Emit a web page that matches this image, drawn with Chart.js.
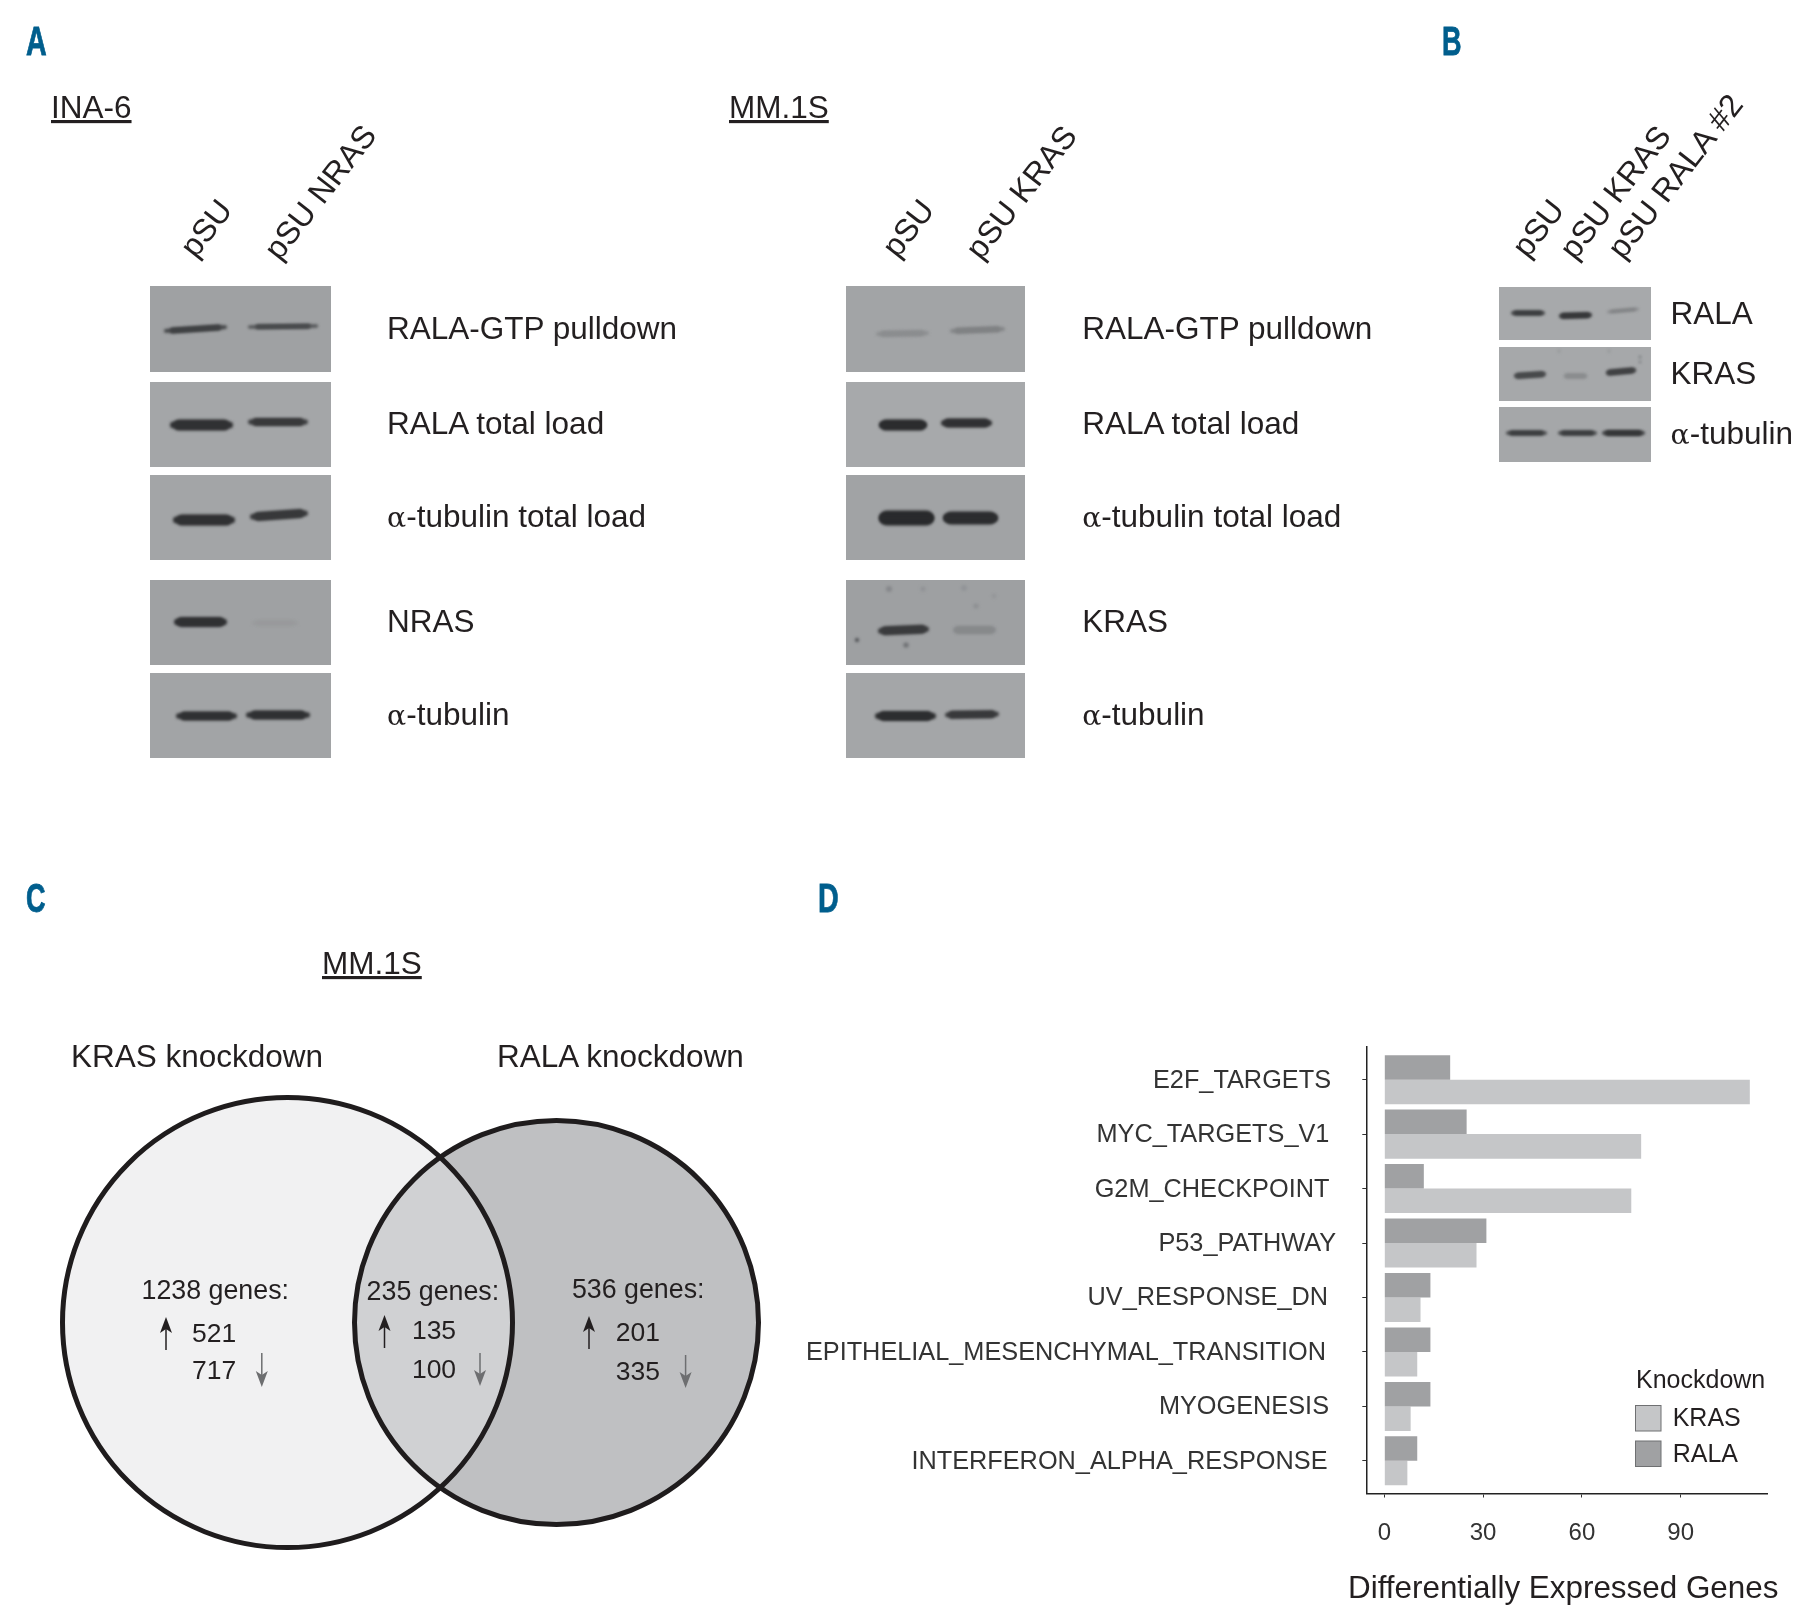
<!DOCTYPE html>
<html><head><meta charset="utf-8">
<script src="https://cdn.jsdelivr.net/npm/chart.js@4"></script>
<style>
html,body{margin:0;padding:0;background:#fff;width:1803px;height:1618px;overflow:hidden}
canvas{position:absolute;display:block}
svg{position:absolute;left:0;top:0}
svg text{font-family:"Liberation Sans",Arial,sans-serif;fill:#231f20}
</style></head><body>
<svg id="ov" width="1803" height="1618" xmlns="http://www.w3.org/2000/svg" style="z-index:5"></svg>
<script>
/* ---------- Panel D data ---------- */
const categories = ["E2F_TARGETS","MYC_TARGETS_V1","G2M_CHECKPOINT","P53_PATHWAY","UV_RESPONSE_DN","EPITHELIAL_MESENCHYMAL_TRANSITION","MYOGENESIS","INTERFERON_ALPHA_RESPONSE"];
const ralaGenes = [20,25,12,31,14,14,14,10];
const krasGenes = [111,78,75,28,11,10,8,7];
const xTickValues = [0,30,60,90];
const xTitle = "Differentially Expressed Genes";
const legendTitle = "Knockdown";
const legendNames = ["KRAS","RALA"];

/* ---------- Panel C data ---------- */
const vennSets = ["KRAS knockdown","RALA knockdown"];
const vennTotals = [1238,235,536];
const vennUp = [521,135,201];
const vennDown = [717,100,335];

/* ---------- Panels A / B labels ---------- */
const blotRowsA1 = ["RALA-GTP pulldown","RALA total load","α-tubulin total load","NRAS","α-tubulin"];
const blotRowsA2 = ["RALA-GTP pulldown","RALA total load","α-tubulin total load","KRAS","α-tubulin"];
const blotRowsB = ["RALA","KRAS","α-tubulin"];

/* Blot bands: [start, startLevel, end, endLevel, thickness, shade] per row */
const bandsA1 = [
 [[14,45,77,41,6,"#3f4143"],[98,41,168,40,5,"#484a4c"]],
 [[20,43,83,43,11,"#303133"],[98,40,158,40,8,"#38393b"]],
 [[23,45,85,45,11,"#303133"],[100,42,158,38,9,"#37383a"]],
 [[24,42,77,42,10,"#303133"],[102,43,148,43,5,"#98999b"]],
 [[26,43,87,43,9,"#303133"],[96,42,160,42,9,"#303133"]]
];
const bandsA2 = [
 [[30,48,83,47,6,"#8b8d8f"],[104,45,159,43,6,"#808284"]],
 [[33,43,81,43,11,"#2b2c2e"],[95,41,146,41,9,"#303133"]],
 [[33,43,88,43,15,"#292a2c"],[97,43,152,43,13,"#2c2d2f"]],
 [[32,51,83,49,9,"#3a3b3d"],[107,50,150,50,8,"#87898b"]],
 [[29,43,90,43,10,"#2d2e30"],[99,42,153,41,8,"#38393b"]]
];
const bandsB = [
 [[12,26,46,26,5,"#3a3c3e"],[60,29,93,28,6,"#363739"],[108,25,140,22,3,"#808284"]],
 [[15,29,47,27,6,"#47494b"],[65,29,88,29,5,"#8a8c8e"],[107,26,137,23,6,"#404143"]],
 [[7,26,48,26,5,"#3a3c3e"],[59,26,98,26,5,"#3a3c3e"],[103,26,146,26,6,"#363739"]]
];
const specksA2 = [[],[],[],[[11,60,2,"#45474a"],[60,65,2.6,"#6d6f72"],[43,9,3,"#85878a"],[77,9,2.5,"#909295"],[130,26,2.6,"#8d8f92"],[148,16,2.2,"#929497"],[118,8,3,"#929497"]],[]];
const specksB = [[],[[141,10,1,"#55575a"],[141,15,0.9,"#55575a"],[60,4,1.5,"#939598"],[110,4,1.5,"#939598"]],[]];

const FONT = '"Liberation Sans", Arial, sans-serif';
const TEXT = "#231f20";
Chart.defaults.animation = false;
Chart.defaults.devicePixelRatio = 1;
Chart.defaults.responsive = false;
Chart.defaults.font.family = FONT;

function addCanvas(l,t,w,h){
  const c=document.createElement("canvas");
  c.width=w;c.height=h;c.style.left=l+"px";c.style.top=t+"px";c.style.width=w+"px";c.style.height=h+"px";
  document.body.appendChild(c);return c;
}

/* ---------- Blots as line charts of thick blurred strokes ---------- */
function blotChart(l,t,w,h,bg,bands,specks){
  const ds=[];
  bands.forEach(b=>{
    const lerp=f=>({x:b[0]+(b[2]-b[0])*f,y:b[1]+(b[3]-b[1])*f});
    const tip=b[4]*0.3/(b[2]-b[0]);
    ds.push({data:[lerp(tip),lerp(1-tip)],borderColor:b[5],borderWidth:b[4]*0.6,borderCapStyle:"round",pointRadius:0,tension:0});
    ds.push({data:[lerp(0.14),lerp(0.86)],borderColor:b[5],borderWidth:b[4],borderCapStyle:"round",pointRadius:0,tension:0});
  });
  if(specks&&specks.length) ds.push({
    data:specks.map(s=>({x:s[0],y:s[1]})),showLine:false,
    pointRadius:specks.map(s=>s[2]),pointBackgroundColor:specks.map(s=>s[3]),pointBorderWidth:0
  });
  new Chart(addCanvas(l,t,w,h),{
    type:"line",data:{datasets:ds},
    options:{layout:{padding:0,autoPadding:false},
      scales:{x:{type:"linear",min:0,max:w,display:false},y:{type:"linear",min:0,max:h,reverse:true,display:false}},
      plugins:{legend:{display:false},tooltip:{enabled:false}}},
    plugins:[{id:"film",
      beforeDatasetsDraw(c){const x=c.ctx;x.save();x.fillStyle=bg;x.fillRect(0,0,w,h);x.filter="blur(1.5px)";},
      afterDatasetsDraw(c){c.ctx.restore();}}]
  });
}
const rowTops=[286,382,475,580,673], rowHeights=[86,85,85,85,85];
const bgA1=["#9fa1a3","#a4a6a8","#a3a5a7","#9fa1a3","#a2a4a6"];
const bgA2=["#a2a4a6","#a7a9ab","#a1a3a5","#9ea0a2","#a4a6a8"];
rowTops.forEach((t,i)=>{
  blotChart(150,t,181,rowHeights[i],bgA1[i],bandsA1[i],[]);
  blotChart(846,t,179,rowHeights[i],bgA2[i],bandsA2[i],specksA2[i]);
});
[[287,53,"#a7a9ab"],[347,54,"#a6a8aa"],[407,55,"#a5a7a9"]].forEach((r,i)=>
  blotChart(1499,r[0],152,r[1],r[2],bandsB[i],specksB[i]));

/* ---------- Venn as bubble chart ---------- */
const VX=0,VY=1060,VW=800,VH=510;
const leftSet={x:287.5,y:1322.5,r:225}, rightSet={x:556.5,y:1322.5,r:202};
const fills={left:"#f1f1f2",right:"#bfc0c2",both:"#d0d1d3",edge:"#1f1c1d"};
new Chart(addCanvas(VX,VY,VW,VH),{
  type:"bubble",
  data:{datasets:[
    {data:[leftSet],backgroundColor:fills.left,borderWidth:0,clip:false,order:3},
    {data:[rightSet],backgroundColor:fills.right,borderWidth:0,clip:false,order:2},
    {data:[rightSet],backgroundColor:fills.both,borderWidth:0,clip:false,order:1},
    {data:[leftSet,rightSet],backgroundColor:"rgba(0,0,0,0)",borderColor:fills.edge,borderWidth:5,clip:false,order:0}
  ]},
  options:{layout:{padding:0,autoPadding:false},
    scales:{x:{type:"linear",min:VX,max:VX+VW,display:false},y:{type:"linear",min:VY,max:VY+VH,reverse:true,display:false}},
    plugins:{legend:{display:false},tooltip:{enabled:false}}},
  plugins:[{id:"overlap",
    beforeDatasetDraw(c,a){ if(a.index===2){const e=c.getDatasetMeta(0).data[0];
      c.ctx.save();c.ctx.beginPath();c.ctx.arc(e.x,e.y,leftSet.r,0,Math.PI*2);c.ctx.clip();} },
    afterDatasetDraw(c,a){ if(a.index===2) c.ctx.restore(); }}]
});

/* ---------- Panel D: horizontal bars ---------- */
const D={l:800,t:1030,w:1003,h:588};
const labelRight=[1331,1329.4,1329.4,1336,1328,1326,1329,1327.5];
new Chart(addCanvas(D.l,D.t,D.w,D.h),{
  type:"bar",
  data:{datasets:[
    {label:legendNames[1],data:ralaGenes.map((v,i)=>({x:v,y:i})),backgroundColor:"#a0a1a3",barPercentage:1,categoryPercentage:0.9},
    {label:legendNames[0],data:krasGenes.map((v,i)=>({x:v,y:i})),backgroundColor:"#c5c6c8",barPercentage:1,categoryPercentage:0.9}
  ]},
  options:{indexAxis:"y",
    layout:{padding:{top:17,right:35.3,left:0,bottom:0},autoPadding:false},
    scales:{
      x:{type:"linear",min:-5.47,max:116.43,
        afterBuildTicks(s){s.ticks=xTickValues.map(v=>({value:v}));},
        afterFit(s){s.height=124.5;},
        grid:{drawOnChartArea:false,tickLength:4,tickColor:"#333",tickWidth:1},
        border:{color:"#222",width:1.5},
        ticks:{color:"#333",font:{size:24},padding:21,maxRotation:0,callback:v=>String(v)}},
      y:{type:"linear",reverse:true,min:-0.6,max:7.6,offset:false,
        afterBuildTicks(s){s.ticks=categories.map((_,i)=>({value:i}));},
        afterFit(s){s.width=566.3;},
        grid:{offset:false,drawOnChartArea:false,tickLength:4,tickColor:"#333",tickWidth:1},
        border:{color:"#222",width:1.5},
        ticks:{display:false}}
    },
    plugins:{legend:{display:false},tooltip:{enabled:false}}},
  plugins:[{id:"labels",afterDraw(c){
    const x=c.ctx,ys=c.scales.y;x.save();
    x.font="25.3px "+FONT;x.fillStyle="#333";x.textAlign="right";x.textBaseline="alphabetic";
    categories.forEach((n,i)=>x.fillText(n,labelRight[i]-D.l,ys.getPixelForValue(i)+8));
    x.textAlign="left";x.fillStyle=TEXT;
    x.font="31.4px "+FONT;
    x.fillText(xTitle,1348-D.l,1598-D.t);
    x.font="25px "+FONT;
    x.fillText(legendTitle,1636-D.l,1388-D.t);
    const rows=[[1405.5,25.5,"#c5c6c8",1425.6],[1441,25.5,"#a0a1a3",1462]];
    rows.forEach((r,i)=>{
      x.fillStyle=r[2];x.strokeStyle="#6f7072";x.lineWidth=1;
      x.fillRect(1635.5-D.l,r[0]-D.t,25.5,r[1]);x.strokeRect(1635.5-D.l,r[0]-D.t,25.5,r[1]);
      x.fillStyle=TEXT;x.fillText(legendNames[i],1672.7-D.l,r[3]-D.t);
    });
    x.restore();
  }}]
});

/* ---------- Text overlay ---------- */
const NS="http://www.w3.org/2000/svg", ov=document.getElementById("ov");
function el(n,a,p){const e=document.createElementNS(NS,n);for(const k in a)e.setAttribute(k,a[k]);(p||ov).appendChild(e);return e;}
function txt(x,y,s,size,o){
  o=o||{};
  const e=el("text",Object.assign({x:x,y:y,"font-size":size},o));
  if(s[0]==="α"){
    const a=el("tspan",{},e);a.style.fontFamily='"DejaVu Serif"';a.setAttribute("font-size",size*0.9);a.textContent="α";
    const b=el("tspan",{},e);b.textContent=s.slice(1);
  } else e.textContent=s;
  return e;
}
function letter(x,y,s,sx){
  const e=el("text",{transform:`translate(${x},${y}) scale(${sx},1)`,"font-size":41,"font-weight":"bold"});
  e.style.fill="#005e8d";e.style.stroke="#005e8d";e.style.strokeWidth="0.8px";e.textContent=s;
}
letter(26,55,"A",0.70);letter(1442,55,"B",0.66);letter(26,912,"C",0.66);letter(818,912,"D",0.70);

txt(51,118,"INA-6",31.5,{"text-decoration":"underline"});
txt(729,118,"MM.1S",31.5,{"text-decoration":"underline"});
txt(322,974,"MM.1S",31.5,{"text-decoration":"underline"});

function rot(cx,cy,s){txt(cx,cy,s,32,{"text-anchor":"middle","dominant-baseline":"central",transform:`rotate(-52 ${cx} ${cy})`});}
rot(206,228,"pSU");rot(320,192,"pSU NRAS");
rot(908,228,"pSU");rot(1021,192,"pSU KRAS");
rot(1538,228,"pSU");rot(1615,192,"pSU KRAS");rot(1675,176,"pSU RALA #2");

const rowBase=[338.5,433.5,526.5,631.5,724.5];
blotRowsA1.forEach((s,i)=>txt(387,rowBase[i],s,31.5));
blotRowsA2.forEach((s,i)=>txt(1082.2,rowBase[i],s,31.5));
[323.5,384,444].forEach((y,i)=>txt(1670.5,y,blotRowsB[i],31.5));

txt(71,1067,vennSets[0],31.5);txt(497,1067,vennSets[1],31.5);
const vt=[[141.5,1299],[366.6,1300],[571.9,1298]];
const vn=[[192,1341.7,1379.3],[411.9,1339.3,1378.3],[615.7,1340.7,1380]];
vennTotals.forEach((n,i)=>{
  txt(vt[i][0],vt[i][1],n+" genes:",26.8);
  txt(vn[i][0],vn[i][1],String(vennUp[i]),26.5);
  txt(vn[i][0],vn[i][2],String(vennDown[i]),26.5);
});
function arrow(x,y0,y1,col){
  const d=y1>y0?1:-1;
  el("line",{x1:x,x2:x,y1:y0,y2:y1-d*10,stroke:col,"stroke-width":1.5});
  el("path",{d:`M${x} ${y1} L${x-6} ${y1-d*16} L${x} ${y1-d*12} L${x+6} ${y1-d*16} Z`,fill:col});
}
arrow(166,1350,1317,"#231f20");arrow(384.5,1348,1315,"#231f20");arrow(589,1349,1316,"#231f20");
arrow(261.8,1353,1387,"#6d6e70");arrow(480,1353,1386,"#6d6e70");arrow(685.6,1355,1388,"#6d6e70");
</script>
</body></html>
